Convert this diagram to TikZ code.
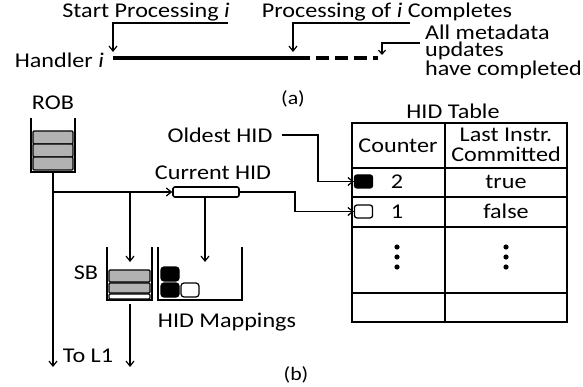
\documentclass[tikz,border=0pt]{standalone}
\usepackage{fontspec}
\setmainfont{Carlito}[FakeStretch=1.15]
\usetikzlibrary{arrows.meta}
\begin{document}
\begin{tikzpicture}[x=1pt,y=-1pt,
  txt/.style={inner sep=0pt,font=\fontsize{21}{21}\selectfont},
  small/.style={inner sep=0pt,font=\fontsize{19}{19}\selectfont},
  conn/.style={line width=1.3pt,-{Straight Barb[length=5pt,width=8pt,line width=1.2pt]}},
  plain/.style={line width=1.3pt},
  cell/.style={draw,line width=1.2pt,fill=black!30,rounded corners=1pt},
  sq/.style={draw,line width=1.3pt,rounded corners=2.5pt,minimum width=18pt,minimum height=13pt,inner sep=0pt},
  tline/.style={line width=1.6pt}]
\useasboundingbox (0,0) rectangle (583,387);
% ---------- (a) ----------
\node[txt] (startlbl) at (146,12) {Start Processing \textit{i}};
\node[txt] (complbl) at (387,12) {Processing of \textit{i} Completes};
\node[txt,anchor=east] (handler) at (104,60) {Handler \textit{i}};
\node[txt,anchor=west,align=left,font={\fontsize{21}{17}\selectfont}] (meta) at (425,52) {All metadata\\updates\\have completed};
\coordinate (hs) at (113,58);
\coordinate (he) at (297,58);
\coordinate (de) at (378,58);
\draw[line width=3.2pt] (hs) -- (he);
\draw[line width=3.2pt,dash pattern=on 13pt off 6pt] (he) -- (de);
\coordinate (s1) at (228,23);
\coordinate (s2) at (113,52);
\draw[conn] (s1) -| (s2);
\coordinate (c1) at (410,23);
\coordinate (c2) at (293,52);
\draw[conn] (c1) -| (c2);
\coordinate (m1) at (420,43);
\coordinate (m2) at (382,55);
\draw[conn,-{Straight Barb[length=4pt,width=7pt,line width=1.2pt]}] (m1) -| (m2);
\node[small] (alab) at (293,99) {(a)};
% ---------- (b) ----------
\node[txt] (roblbl) at (53,103) {ROB};
\draw[plain] (31,118) |- (75,172) -- (75,118);
\draw[cell] (33,131) rectangle (73,144);
\draw[cell] (33,144) rectangle (73,157);
\draw[cell] (33,157) rectangle (73,170);
\coordinate (robb) at (53,172);
\coordinate (robend) at (53,367);
\draw[conn] (robb) -- (robend);
\coordinate (j1) at (53,192);
\coordinate (j2) at (130,192);
\coordinate (sbin) at (130,262);
\node[draw,line width=1.6pt,rounded corners=2pt,minimum width=66pt,minimum height=10pt,inner sep=0pt] (curhid) at (206,192) {};
\node[txt] (curlbl) at (213,173) {Current HID};
\draw[conn] (j1) -- (curhid.west);
\draw[conn] (j2) -- (sbin);
\coordinate (mapin) at (205,262);
\draw[conn] (curhid.south -| mapin) -- (mapin);
\node[txt] (oldlbl) at (220,135) {Oldest HID};
% table
\draw[tline] (352,123) rectangle (567,322);
\draw[tline] (445,123) -- (445,322);
\foreach \yy in {168,197,227,293} \draw[tline] (352,\yy) -- (567,\yy);
\node[txt] (tbllbl) at (453,111) {HID Table};
\node[txt] (counter) at (398,146) {Counter};
\node[txt,align=center,font=\fontsize{21}{20}\selectfont] (lastc) at (506,145) {Last Instr.\\Committed};
\node[sq,fill=black] (bsq) at (363.5,181.5) {};
\node[sq,fill=white] (wsq) at (363.5,211.5) {};
\node[txt] (two) at (397,182) {2};
\node[txt] (tru) at (506,182) {true};
\node[txt] (one) at (397,212) {1};
\node[txt] (fals) at (506,211) {false};
\foreach \xx in {397,506} \foreach \yy in {247,257,267} \fill (\xx,\yy) circle (2.6pt);
\coordinate (o1) at (282,135);
\coordinate (o2) at (318,135);
\draw[conn] (o1) -- (o2) |- (bsq.west);
\coordinate (k1) at (295,192);
\draw[conn] (curhid.east) -- (k1) |- (wsq.west);
% SB
\node[txt] (sblbl) at (86,273) {SB};
\draw[plain] (107,247) |- (152,300) -- (152,247);
\draw[cell] (109,270) rectangle (150,282);
\draw[cell] (109,283) rectangle (150,293);
\draw[cell,fill=white] (109,294) rectangle (150,299);
\coordinate (sbout) at (130,304);
\coordinate (sbend) at (130,367);
\draw[conn] (sbout) -- (sbend);
\node[txt] (tol1) at (88,356) {To L1};
% HID mappings
\draw[plain] (158,247) |- (242,300) -- (242,247);
\draw[line width=1.2pt,fill=black,rounded corners=3pt] (161,267) rectangle (179,281);
\draw[line width=1.2pt,fill=black,rounded corners=3pt] (161,283) rectangle (179,297);
\draw[line width=1.2pt,fill=white,rounded corners=3pt] (181,283) rectangle (199,297);
\node[txt] (maplbl) at (227,322) {HID Mappings};
\node[small] (blab) at (296,375) {(b)};
\end{tikzpicture}
\end{document}
